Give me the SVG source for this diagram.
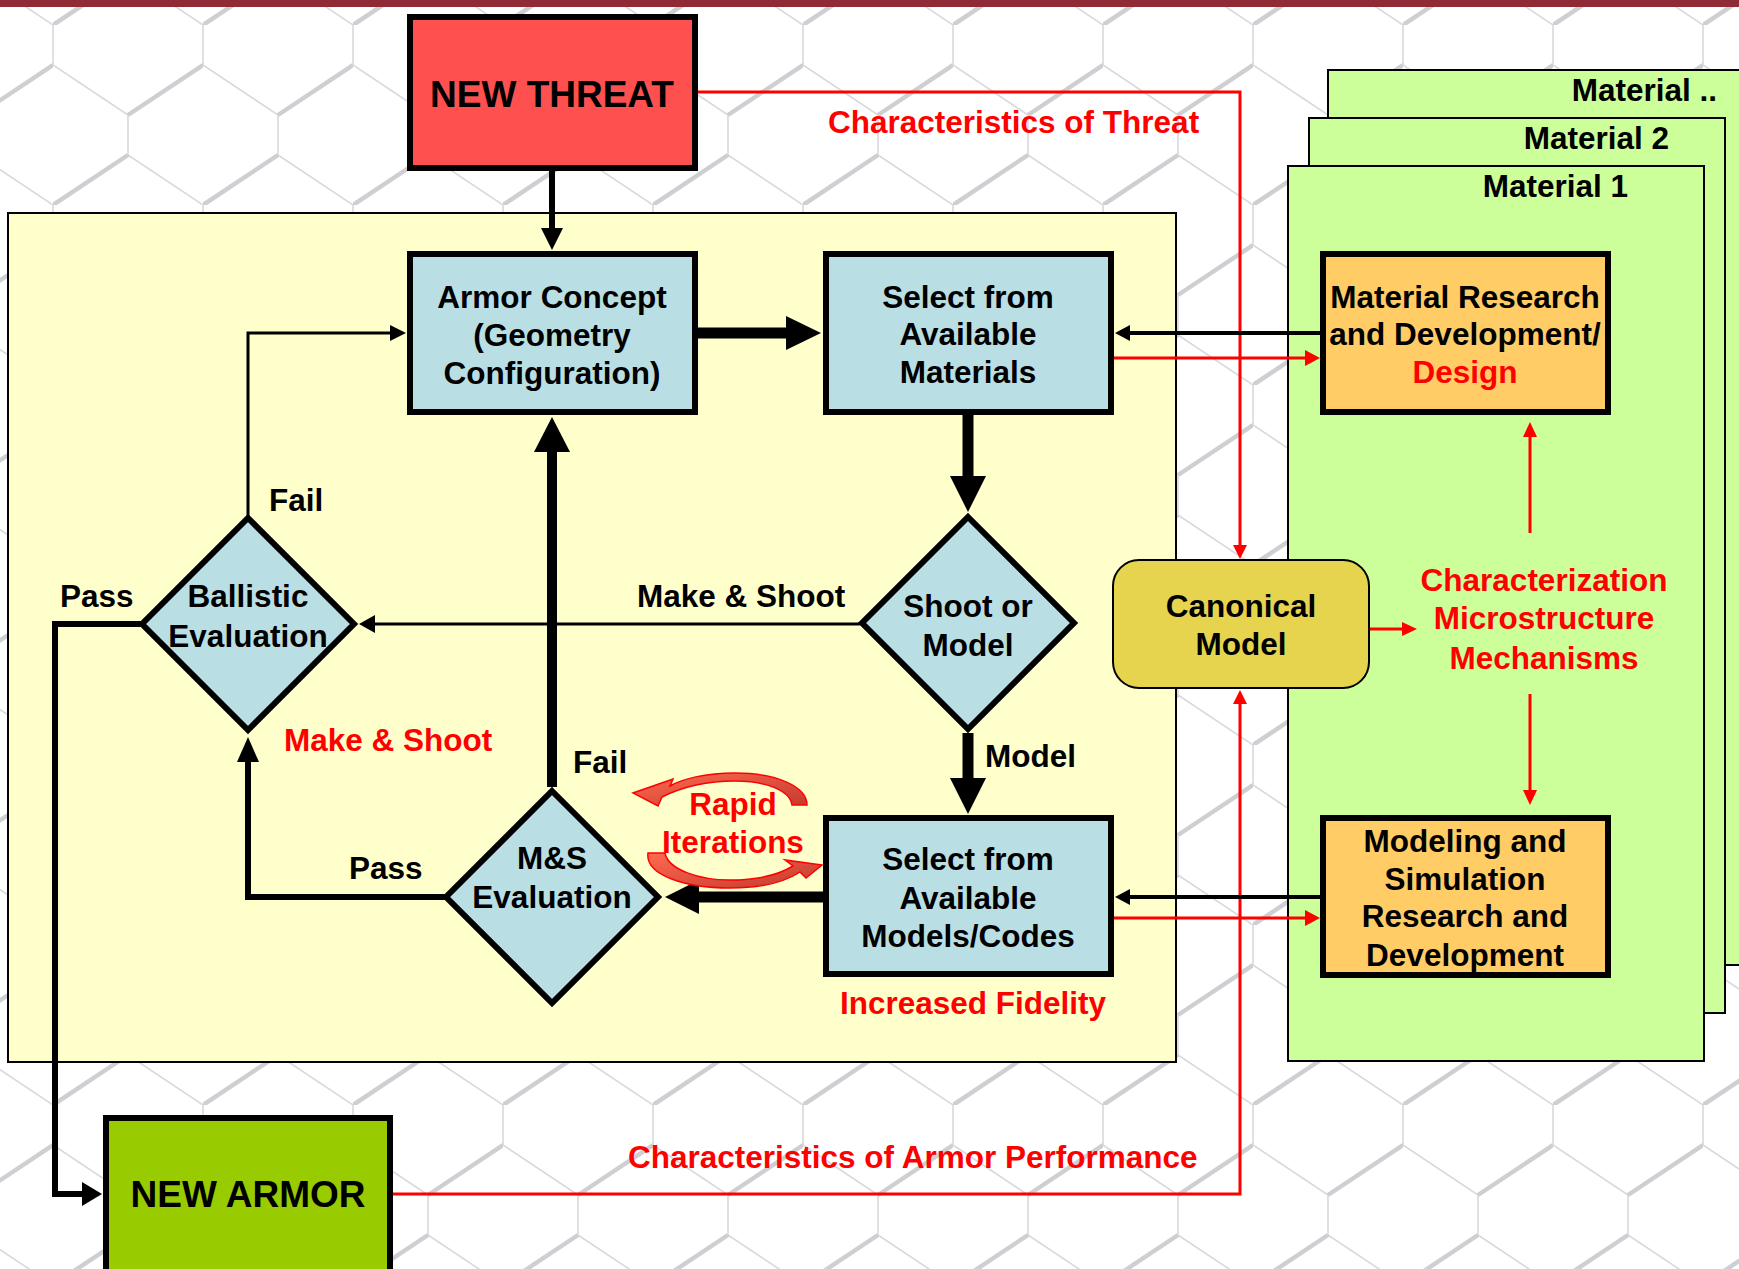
<svg xmlns="http://www.w3.org/2000/svg" width="1739" height="1269" viewBox="0 0 1739 1269">
<style>
text{font-family:"Liberation Sans",Arial,sans-serif;font-weight:bold;font-size:31.5px;fill:#000}
.c{text-anchor:middle}
.e{text-anchor:end}
.red{fill:#FF0000}
.big{font-size:37px}
.box{stroke:#000;stroke-width:6}
.blue{fill:#B9DFE4}
.orange{fill:#FFCC66}
.green{fill:#CCFF99;stroke:#000;stroke-width:2}
.k3{fill:none;stroke:#000;stroke-width:3}
.k4{fill:none;stroke:#000;stroke-width:4}
.k6{fill:none;stroke:#000;stroke-width:6}
.k10{fill:none;stroke:#000;stroke-width:10}
.k11{fill:none;stroke:#000;stroke-width:11}
.r3{fill:none;stroke:#FF0000;stroke-width:3}
.hk{fill:#000}
.hr{fill:#FF0000}
.ribbon{fill:url(#rg);stroke:#FF0000;stroke-width:1.5}
</style>
<defs>
<pattern id="hex" patternUnits="userSpaceOnUse" x="53" y="25" width="150" height="180">
<path d="M0 0V40M150 0V40M75 90V130M0 40L75 90M75 130L150 180" fill="none" stroke="#d9d9de" stroke-width="1.6"/>
<path d="M75 90L150 40M0 180L75 130" fill="none" stroke="#cfcfd3" stroke-width="4.5"/>
</pattern>
<linearGradient id="rg" x1="0" y1="0" x2="1" y2="1">
<stop offset="0" stop-color="#FF6A50"/>
<stop offset="1" stop-color="#C23A2E"/>
</linearGradient>
</defs>

<g id="background">
<rect x="0" y="0" width="1739" height="1269" fill="#ffffff"/>
<rect x="0" y="0" width="1739" height="1269" fill="url(#hex)"/>
<rect x="0" y="0" width="1739" height="7" fill="#8E2B36"/>
</g>

<g id="panel-process">
<rect x="8" y="213" width="1168" height="849" fill="#FFFFCC" stroke="#000" stroke-width="2"/>
</g>

<g id="material-more">
<rect x="1328" y="70" width="430" height="895" class="green"/>
<text x="1717" y="101" class="e">Material ..</text>
</g>
<g id="material-2">
<rect x="1309" y="118" width="416" height="895" class="green"/>
<text x="1669" y="149" class="e">Material 2</text>
</g>
<g id="material-1">
<rect x="1288" y="166" width="416" height="895" class="green"/>
<text x="1628" y="197" class="e">Material 1</text>
</g>

<g id="connectors">
<!-- New threat to armor concept -->
<path d="M552 171V229" class="k6"/>
<polygon points="541,228 563,228 552,250" class="hk"/>
<!-- Armor concept to select materials -->
<path d="M698 333H787" class="k11"/>
<polygon points="786,316 786,350 821,333" class="hk"/>
<!-- Select materials to shoot or model -->
<path d="M968 415V477" class="k11"/>
<polygon points="950,476 986,476 968,512" class="hk"/>
<!-- Shoot or model to select models -->
<path d="M968 733V779" class="k11"/>
<polygon points="950,778 986,778 968,814" class="hk"/>
<!-- Select models to M&S evaluation -->
<path d="M823 897H698" class="k11"/>
<polygon points="699,880 699,914 665,897" class="hk"/>
<!-- M&S fail to armor concept -->
<path d="M552 787V451" class="k10"/>
<polygon points="534,452 570,452 552,417" class="hk"/>
<!-- M&S pass to ballistic -->
<path d="M446 897H248V761" class="k6"/>
<polygon points="237,762 259,762 248,737" class="hk"/>
<!-- Shoot or model: make & shoot to ballistic -->
<path d="M860 624H374" class="k3"/>
<polygon points="375,615 375,633 359,624" class="hk"/>
<!-- Ballistic fail to armor concept -->
<path d="M248 517V333H391" class="k3"/>
<polygon points="390,325 390,341 406,333" class="hk"/>
<!-- Ballistic pass to new armor -->
<path d="M141 624H55V1194H83" class="k6"/>
<polygon points="82,1182 82,1206 102,1194" class="hk"/>
<!-- Threat characteristics to canonical model -->
<path d="M698 92H1240V546" class="r3"/>
<polygon points="1233,545 1247,545 1240,559" class="hr"/>
<!-- Armor performance to canonical model -->
<path d="M393 1194H1240V703" class="r3"/>
<polygon points="1233,704 1247,704 1240,690" class="hr"/>
<!-- Material R&D to select materials -->
<path d="M1320 333H1129" class="k4"/>
<polygon points="1130,325 1130,341 1115,333" class="hk"/>
<!-- Select materials to material R&D -->
<path d="M1114 358H1306" class="r3"/>
<polygon points="1305,350 1305,366 1320,358" class="hr"/>
<!-- M&S R&D to select models -->
<path d="M1320 897H1129" class="k4"/>
<polygon points="1130,889 1130,905 1115,897" class="hk"/>
<!-- Select models to M&S R&D -->
<path d="M1114 918H1306" class="r3"/>
<polygon points="1305,910 1305,926 1320,918" class="hr"/>
<!-- Canonical to characterization -->
<path d="M1369 629H1403" class="r3"/>
<polygon points="1402,622 1402,636 1417,629" class="hr"/>
<!-- Characterization up to material R&D -->
<path d="M1530 533V436" class="r3"/>
<polygon points="1523,437 1537,437 1530,422" class="hr"/>
<!-- Mechanisms down to M&S R&D -->
<path d="M1530 694V791" class="r3"/>
<polygon points="1523,790 1537,790 1530,805" class="hr"/>
</g>

<g id="new-threat">
<rect x="410" y="17" width="285" height="151" fill="#FF5050" class="box"/>
<text x="552" y="107" class="c big">NEW THREAT</text>
</g>

<g id="armor-concept">
<rect x="410" y="254" width="285" height="158" class="box blue"/>
<text x="552" y="308" class="c">Armor Concept</text>
<text x="552" y="346" class="c">(Geometry</text>
<text x="552" y="384" class="c">Configuration)</text>
</g>

<g id="select-materials">
<rect x="826" y="254" width="285" height="158" class="box blue"/>
<text x="968" y="308" class="c">Select from</text>
<text x="968" y="345" class="c">Available</text>
<text x="968" y="383" class="c">Materials</text>
</g>

<g id="material-rd">
<rect x="1323" y="254" width="285" height="158" class="box orange"/>
<text x="1465" y="308" class="c">Material Research</text>
<text x="1465" y="345" class="c">and Development/</text>
<text x="1465" y="383" class="c red">Design</text>
</g>

<g id="ballistic-evaluation">
<polygon points="248,518 354,624 248,730 142,624" class="box blue"/>
<text x="248" y="607" class="c">Ballistic</text>
<text x="248" y="647" class="c">Evaluation</text>
</g>

<g id="shoot-or-model">
<polygon points="968,517 1074,623 968,729 862,623" class="box blue"/>
<text x="968" y="617" class="c">Shoot or</text>
<text x="968" y="656" class="c">Model</text>
</g>

<g id="canonical-model">
<rect x="1113" y="560" width="256" height="128" rx="26" fill="#E6D44E" stroke="#000" stroke-width="2"/>
<text x="1241" y="617" class="c">Canonical</text>
<text x="1241" y="655" class="c">Model</text>
</g>

<g id="characterization">
<text x="1544" y="591" class="c red">Characterization</text>
<text x="1544" y="629" class="c red">Microstructure</text>
<text x="1544" y="669" class="c red">Mechanisms</text>
</g>

<g id="ms-evaluation">
<polygon points="552,791 658,897 552,1003 446,897" class="box blue"/>
<text x="552" y="869" class="c">M&amp;S</text>
<text x="552" y="908" class="c">Evaluation</text>
</g>

<g id="select-models">
<rect x="826" y="818" width="285" height="156" class="box blue"/>
<text x="968" y="870" class="c">Select from</text>
<text x="968" y="909" class="c">Available</text>
<text x="968" y="947" class="c">Models/Codes</text>
</g>

<g id="ms-rd">
<rect x="1323" y="818" width="285" height="157" class="box orange"/>
<text x="1465" y="852" class="c">Modeling and</text>
<text x="1465" y="890" class="c">Simulation</text>
<text x="1465" y="927" class="c">Research and</text>
<text x="1465" y="966" class="c">Development</text>
</g>

<g id="new-armor">
<rect x="106" y="1118" width="284" height="200" fill="#99CC00" class="box"/>
<text x="248" y="1207" class="c big">NEW ARMOR</text>
</g>

<g id="rapid-iterations">
<path d="M807 805C807 786 775 773 735 773C705 773 682 779 670 786L673 779L633 793L658 806L662 797C680 788 705 781 735 781C765 781 790 790 792 805Z" class="ribbon"/>
<path d="M648 853C645 875 685 888 730 888C760 888 785 882 800 872L806 878L822 865L785 860L793 866C780 874 758 880 730 880C700 880 668 870 665 853Z" class="ribbon"/>
<text x="733" y="815" class="c red">Rapid</text>
<text x="733" y="853" class="c red">Iterations</text>
</g>

<g id="labels">
<text x="828" y="133" class="red">Characteristics of Threat</text>
<text x="269" y="511">Fail</text>
<text x="60" y="607">Pass</text>
<text x="637" y="607">Make &amp; Shoot</text>
<text x="284" y="751" class="red">Make &amp; Shoot</text>
<text x="573" y="773">Fail</text>
<text x="985" y="767">Model</text>
<text x="349" y="879">Pass</text>
<text x="840" y="1014" class="red">Increased Fidelity</text>
<text x="628" y="1168" class="red">Characteristics of Armor Performance</text>
</g>
</svg>
